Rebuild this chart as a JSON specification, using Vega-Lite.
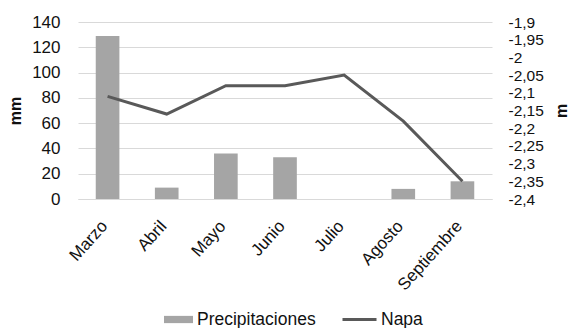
{
  "$schema": "https://vega.github.io/schema/vega-lite/v6.json",
  "width": 414,
  "height": 177,
  "autosize": {"type": "none"},
  "padding": {"left": 78, "top": 22, "right": 85, "bottom": 129},
  "config": {
    "font": "Liberation Sans",
    "view": {"stroke": null},
    "axis": {"labelColor": "#111111", "titleColor": "#111111", "labelFont": "Liberation Sans", "titleFont": "Liberation Sans"},
    "legend": {"labelFont": "Liberation Sans", "labelColor": "#111111", "labelFontSize": 17.5}
  },
  "data": {
    "values": [
      {"mes": "Marzo", "precipitaciones": 129, "napa": -2.11},
      {"mes": "Abril", "precipitaciones": 9, "napa": -2.16},
      {"mes": "Mayo", "precipitaciones": 36, "napa": -2.08},
      {"mes": "Junio", "precipitaciones": 33, "napa": -2.08},
      {"mes": "Julio", "precipitaciones": 0, "napa": -2.05},
      {"mes": "Agosto", "precipitaciones": 8, "napa": -2.18},
      {"mes": "Septiembre", "precipitaciones": 14, "napa": -2.35}
    ]
  },
  "encoding": {
    "x": {
      "field": "mes",
      "type": "nominal",
      "sort": null,
      "title": null,
      "scale": {"paddingInner": 0.6, "paddingOuter": 0.3},
      "axis": {
        "labelAngle": -48,
        "labelAlign": "right",
        "labelBaseline": "middle",
        "labelFontSize": 17,
        "labelPadding": 24,
        "labelOffset": -3,
        "ticks": false,
        "domain": true,
        "domainColor": "#D9D9D9",
        "domainWidth": 1
      }
    }
  },
  "layer": [
    {
      "mark": {"type": "bar"},
      "encoding": {
        "y": {
          "field": "precipitaciones",
          "type": "quantitative",
          "title": "mm",
          "scale": {"domain": [0, 140]},
          "axis": {
            "values": [0, 20, 40, 60, 80, 100, 120, 140],
            "labelFontSize": 17,
            "labelPadding": 18,
            "ticks": false,
            "domain": false,
            "grid": true,
            "gridColor": "#D9D9D9",
            "gridWidth": 1,
            "titleFontSize": 16,
            "titleFontWeight": "bold",
            "titlePadding": 8
          }
        },
        "fill": {
          "datum": "Precipitaciones",
          "type": "nominal",
          "scale": {"range": ["#A5A5A5"]},
          "legend": {
            "title": null,
            "orient": "none",
            "legendX": 86,
            "legendY": 283,
            "symbolType": "M-1,-0.25H1V0.25H-1Z",
            "symbolSize": 841,
            "symbolStrokeWidth": 0,
            "labelOffset": 4
          }
        }
      }
    },
    {
      "mark": {"type": "line", "strokeWidth": 3},
      "encoding": {
        "y": {
          "field": "napa",
          "type": "quantitative",
          "title": "m",
          "scale": {"domain": [-2.4, -1.9], "zero": false},
          "axis": {
            "orient": "right",
            "values": [-2.4, -2.35, -2.3, -2.25, -2.2, -2.15, -2.1, -2.05, -2, -1.95, -1.9],
            "labelExpr": "replace(toString(datum.value), '.', ',')",
            "labelFontSize": 15.5,
            "labelPadding": 16,
            "labelOverlap": false,
            "ticks": false,
            "domain": false,
            "grid": false,
            "titleFontSize": 16,
            "titleFontWeight": "bold",
            "titleAngle": 270,
            "titleBaseline": "top",
            "titlePadding": 10
          }
        },
        "stroke": {
          "datum": "Napa",
          "type": "nominal",
          "scale": {"range": ["#595959"]},
          "legend": {
            "title": null,
            "orient": "none",
            "legendX": 263,
            "legendY": 279,
            "symbolType": "stroke",
            "symbolSize": 1156,
            "symbolStrokeWidth": 3,
            "labelOffset": 3
          }
        }
      }
    }
  ],
  "resolve": {"scale": {"y": "independent"}}
}
